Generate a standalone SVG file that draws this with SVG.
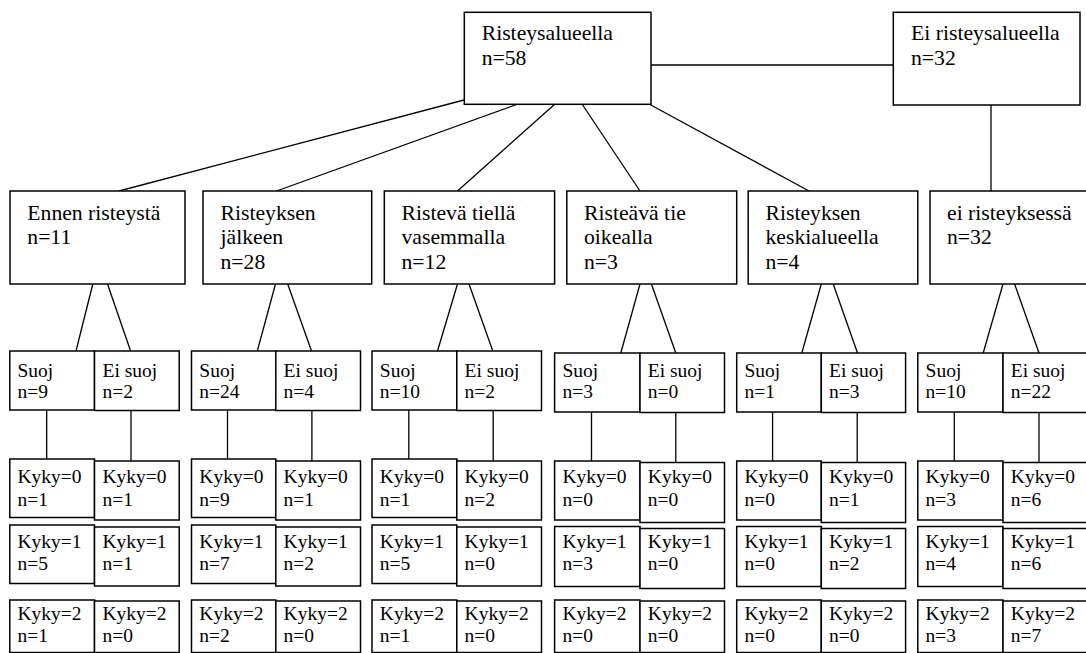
<svg xmlns="http://www.w3.org/2000/svg" width="1086" height="653" viewBox="0 0 1086 653">
  <style>
    .box { fill: #ffffff; stroke: #000000; stroke-width: 1.5; }
    .edge { stroke: #000000; stroke-width: 1.3; fill: none; }
    .big { font-family: "Liberation Serif", "Times New Roman", serif; font-size: 21.7px; fill: #000000; }
    .small { font-family: "Liberation Serif", "Times New Roman", serif; font-size: 19.5px; fill: #000000; }
  </style>
  <rect x="0" y="0" width="1086" height="653" fill="#ffffff"/>

  <!-- connectors -->
  <g id="connectors" class="edge">
    <line x1="651" y1="65" x2="893" y2="65"/>
    <line x1="991" y1="105" x2="991" y2="191"/>
    <line x1="464" y1="100" x2="119" y2="191"/>
    <line x1="518" y1="104" x2="276.5" y2="191"/>
    <line x1="555" y1="104" x2="457.5" y2="191"/>
    <line x1="582" y1="104" x2="640" y2="191"/>
    <line x1="649" y1="104" x2="809" y2="191"/>

    <line x1="92.8" y1="284" x2="76" y2="351"/>
    <line x1="107.5" y1="284" x2="130.6" y2="351"/>
    <line x1="275.5" y1="284" x2="257.3" y2="351"/>
    <line x1="287.7" y1="284" x2="311.5" y2="351"/>
    <line x1="457.5" y1="284" x2="437.5" y2="351"/>
    <line x1="469" y1="284" x2="492.8" y2="351"/>
    <line x1="640" y1="284" x2="620.8" y2="353"/>
    <line x1="651.4" y1="284" x2="675.8" y2="353"/>
    <line x1="821.3" y1="284" x2="801.8" y2="353"/>
    <line x1="833.2" y1="284" x2="857.5" y2="353"/>
    <line x1="1003" y1="284" x2="983.2" y2="353"/>
    <line x1="1014.6" y1="284" x2="1039" y2="353"/>

    <line x1="46.7" y1="410" x2="46.7" y2="459"/>
    <line x1="131" y1="410" x2="131" y2="461"/>
    <line x1="227.5" y1="410" x2="227.5" y2="459"/>
    <line x1="311.9" y1="410" x2="311.9" y2="461"/>
    <line x1="408.8" y1="410" x2="408.8" y2="459"/>
    <line x1="493.2" y1="410" x2="493.2" y2="461"/>
    <line x1="591.5" y1="412" x2="591.5" y2="461"/>
    <line x1="675.8" y1="412" x2="675.8" y2="462.5"/>
    <line x1="772.6" y1="412" x2="772.6" y2="461"/>
    <line x1="857.2" y1="412" x2="857.2" y2="462.5"/>
    <line x1="954.3" y1="412" x2="954.3" y2="461"/>
    <line x1="1039" y1="412" x2="1039" y2="462.5"/>
  </g>

  <!-- top level -->
  <g id="risteysalueella">
    <rect class="box" x="464.3" y="12.3" width="186.7" height="92"/>
    <text class="big" x="481.7" y="40">Risteysalueella</text>
    <text class="big" x="481.7" y="65">n=58</text>
  </g>
  <g id="ei-risteysalueella">
    <rect class="box" x="893.3" y="12.3" width="186.7" height="92.7"/>
    <text class="big" x="911" y="40">Ei risteysalueella</text>
    <text class="big" x="911" y="65">n=32</text>
  </g>

  <!-- second level -->
  <g id="ennen-risteysta">
    <rect class="box" x="10" y="191" width="175" height="93"/>
    <text class="big" x="27.3" y="220">Ennen risteystä</text>
    <text class="big" x="27.3" y="244.3">n=11</text>
  </g>
  <g id="risteyksen-jalkeen">
    <rect class="box" x="203" y="191" width="168.7" height="93"/>
    <text class="big" x="220.5" y="220">Risteyksen</text>
    <text class="big" x="220.5" y="244.3">jälkeen</text>
    <text class="big" x="220.5" y="268.6">n=28</text>
  </g>
  <g id="risteva-tiella-vasemmalla">
    <rect class="box" x="384.3" y="191" width="170.3" height="93"/>
    <text class="big" x="401.5" y="220">Ristevä tiellä</text>
    <text class="big" x="401.5" y="244.3">vasemmalla</text>
    <text class="big" x="401.5" y="268.6">n=12</text>
  </g>
  <g id="risteava-tie-oikealla">
    <rect class="box" x="566.8" y="191" width="169.9" height="93"/>
    <text class="big" x="584" y="220">Risteävä tie</text>
    <text class="big" x="584" y="244.3">oikealla</text>
    <text class="big" x="584" y="268.6">n=3</text>
  </g>
  <g id="risteyksen-keskialueella">
    <rect class="box" x="748.2" y="191" width="169.6" height="93"/>
    <text class="big" x="765.5" y="220">Risteyksen</text>
    <text class="big" x="765.5" y="244.3">keskialueella</text>
    <text class="big" x="765.5" y="268.6">n=4</text>
  </g>
  <g id="ei-risteyksessa">
    <rect class="box" x="930" y="191" width="170" height="93"/>
    <text class="big" x="947" y="220">ei risteyksessä</text>
    <text class="big" x="947" y="244.3">n=32</text>
  </g>

  <!-- third level: protected / unprotected -->
  <g id="g1-suoj"><rect class="box" x="9.8" y="351" width="84.7" height="59"/><text class="small" x="17.5" y="376.7">Suoj</text><text class="small" x="17.5" y="398.3">n=9</text></g>
  <g id="g1-eisuoj"><rect class="box" x="94.5" y="351" width="84.7" height="59.5"/><text class="small" x="102.5" y="376.7">Ei suoj</text><text class="small" x="102.5" y="398.3">n=2</text></g>
  <g id="g2-suoj"><rect class="box" x="191.5" y="351" width="84.3" height="59"/><text class="small" x="199.3" y="376.7">Suoj</text><text class="small" x="199.3" y="398.3">n=24</text></g>
  <g id="g2-eisuoj"><rect class="box" x="275.8" y="351" width="84.7" height="59.5"/><text class="small" x="283.6" y="376.7">Ei suoj</text><text class="small" x="283.6" y="398.3">n=4</text></g>
  <g id="g3-suoj"><rect class="box" x="372" y="351" width="84.8" height="59"/><text class="small" x="379.8" y="376.7">Suoj</text><text class="small" x="379.8" y="398.3">n=10</text></g>
  <g id="g3-eisuoj"><rect class="box" x="456.8" y="351" width="84.7" height="59.5"/><text class="small" x="464.6" y="376.7">Ei suoj</text><text class="small" x="464.6" y="398.3">n=2</text></g>
  <g id="g4-suoj"><rect class="box" x="554.6" y="353" width="85.4" height="59"/><text class="small" x="562.4" y="376.7">Suoj</text><text class="small" x="562.4" y="398.3">n=3</text></g>
  <g id="g4-eisuoj"><rect class="box" x="640" y="353" width="84.5" height="59.5"/><text class="small" x="647.8" y="376.7">Ei suoj</text><text class="small" x="647.8" y="398.3">n=0</text></g>
  <g id="g5-suoj"><rect class="box" x="736.7" y="353" width="84.6" height="59"/><text class="small" x="744.5" y="376.7">Suoj</text><text class="small" x="744.5" y="398.3">n=1</text></g>
  <g id="g5-eisuoj"><rect class="box" x="821.3" y="353" width="84.3" height="59.5"/><text class="small" x="829.1" y="376.7">Ei suoj</text><text class="small" x="829.1" y="398.3">n=3</text></g>
  <g id="g6-suoj"><rect class="box" x="917.8" y="353" width="85.2" height="59"/><text class="small" x="925.6" y="376.7">Suoj</text><text class="small" x="925.6" y="398.3">n=10</text></g>
  <g id="g6-eisuoj"><rect class="box" x="1003" y="353" width="85" height="59.5"/><text class="small" x="1010.8" y="376.7">Ei suoj</text><text class="small" x="1010.8" y="398.3">n=22</text></g>

  <!-- fourth level: Kyky rows, group 1 -->
  <g id="g1-s-k0"><rect class="box" x="9.8" y="459" width="84.7" height="58.5"/><text class="small" x="17.5" y="483">Kyky=0</text><text class="small" x="17.5" y="505.5">n=1</text></g>
  <g id="g1-e-k0"><rect class="box" x="94.5" y="461" width="84.7" height="59"/><text class="small" x="102.5" y="483">Kyky=0</text><text class="small" x="102.5" y="505.5">n=1</text></g>
  <g id="g1-s-k1"><rect class="box" x="9.8" y="525" width="84.7" height="58.5"/><text class="small" x="17.5" y="548.3">Kyky=1</text><text class="small" x="17.5" y="570">n=5</text></g>
  <g id="g1-e-k1"><rect class="box" x="94.5" y="527" width="84.7" height="59"/><text class="small" x="102.5" y="548.3">Kyky=1</text><text class="small" x="102.5" y="570">n=1</text></g>
  <g id="g1-s-k2"><rect class="box" x="9.8" y="600" width="84.7" height="52.5"/><text class="small" x="17.5" y="620">Kyky=2</text><text class="small" x="17.5" y="642">n=1</text></g>
  <g id="g1-e-k2"><rect class="box" x="94.5" y="601" width="84.7" height="51.5"/><text class="small" x="102.5" y="620">Kyky=2</text><text class="small" x="102.5" y="642">n=0</text></g>

  <!-- group 2 -->
  <g id="g2-s-k0"><rect class="box" x="191.5" y="459" width="84.3" height="58.5"/><text class="small" x="199.3" y="483">Kyky=0</text><text class="small" x="199.3" y="505.5">n=9</text></g>
  <g id="g2-e-k0"><rect class="box" x="275.8" y="461" width="84.7" height="59"/><text class="small" x="283.6" y="483">Kyky=0</text><text class="small" x="283.6" y="505.5">n=1</text></g>
  <g id="g2-s-k1"><rect class="box" x="191.5" y="525" width="84.3" height="58.5"/><text class="small" x="199.3" y="548.3">Kyky=1</text><text class="small" x="199.3" y="570">n=7</text></g>
  <g id="g2-e-k1"><rect class="box" x="275.8" y="527" width="84.7" height="59"/><text class="small" x="283.6" y="548.3">Kyky=1</text><text class="small" x="283.6" y="570">n=2</text></g>
  <g id="g2-s-k2"><rect class="box" x="191.5" y="600" width="84.3" height="52.5"/><text class="small" x="199.3" y="620">Kyky=2</text><text class="small" x="199.3" y="642">n=2</text></g>
  <g id="g2-e-k2"><rect class="box" x="275.8" y="601" width="84.7" height="51.5"/><text class="small" x="283.6" y="620">Kyky=2</text><text class="small" x="283.6" y="642">n=0</text></g>

  <!-- group 3 -->
  <g id="g3-s-k0"><rect class="box" x="372" y="459" width="84.8" height="58.5"/><text class="small" x="379.8" y="483">Kyky=0</text><text class="small" x="379.8" y="505.5">n=1</text></g>
  <g id="g3-e-k0"><rect class="box" x="456.8" y="461" width="84.7" height="59"/><text class="small" x="464.6" y="483">Kyky=0</text><text class="small" x="464.6" y="505.5">n=2</text></g>
  <g id="g3-s-k1"><rect class="box" x="372" y="525" width="84.8" height="58.5"/><text class="small" x="379.8" y="548.3">Kyky=1</text><text class="small" x="379.8" y="570">n=5</text></g>
  <g id="g3-e-k1"><rect class="box" x="456.8" y="527" width="84.7" height="59"/><text class="small" x="464.6" y="548.3">Kyky=1</text><text class="small" x="464.6" y="570">n=0</text></g>
  <g id="g3-s-k2"><rect class="box" x="372" y="600" width="84.8" height="52.5"/><text class="small" x="379.8" y="620">Kyky=2</text><text class="small" x="379.8" y="642">n=1</text></g>
  <g id="g3-e-k2"><rect class="box" x="456.8" y="601" width="84.7" height="51.5"/><text class="small" x="464.6" y="620">Kyky=2</text><text class="small" x="464.6" y="642">n=0</text></g>

  <!-- group 4 -->
  <g id="g4-s-k0"><rect class="box" x="554.6" y="461" width="85.4" height="59"/><text class="small" x="562.4" y="483">Kyky=0</text><text class="small" x="562.4" y="505.5">n=0</text></g>
  <g id="g4-e-k0"><rect class="box" x="640" y="462.5" width="84.5" height="60"/><text class="small" x="647.8" y="483">Kyky=0</text><text class="small" x="647.8" y="505.5">n=0</text></g>
  <g id="g4-s-k1"><rect class="box" x="554.6" y="526.5" width="85.4" height="60"/><text class="small" x="562.4" y="548.3">Kyky=1</text><text class="small" x="562.4" y="570">n=3</text></g>
  <g id="g4-e-k1"><rect class="box" x="640" y="528.5" width="84.5" height="60"/><text class="small" x="647.8" y="548.3">Kyky=1</text><text class="small" x="647.8" y="570">n=0</text></g>
  <g id="g4-s-k2"><rect class="box" x="554.6" y="600" width="85.4" height="52.5"/><text class="small" x="562.4" y="620">Kyky=2</text><text class="small" x="562.4" y="642">n=0</text></g>
  <g id="g4-e-k2"><rect class="box" x="640" y="601" width="84.5" height="51.5"/><text class="small" x="647.8" y="620">Kyky=2</text><text class="small" x="647.8" y="642">n=0</text></g>

  <!-- group 5 -->
  <g id="g5-s-k0"><rect class="box" x="736.7" y="461" width="84.6" height="59"/><text class="small" x="744.5" y="483">Kyky=0</text><text class="small" x="744.5" y="505.5">n=0</text></g>
  <g id="g5-e-k0"><rect class="box" x="821.3" y="462.5" width="84.3" height="60"/><text class="small" x="829.1" y="483">Kyky=0</text><text class="small" x="829.1" y="505.5">n=1</text></g>
  <g id="g5-s-k1"><rect class="box" x="736.7" y="526.5" width="84.6" height="60"/><text class="small" x="744.5" y="548.3">Kyky=1</text><text class="small" x="744.5" y="570">n=0</text></g>
  <g id="g5-e-k1"><rect class="box" x="821.3" y="528.5" width="84.3" height="60"/><text class="small" x="829.1" y="548.3">Kyky=1</text><text class="small" x="829.1" y="570">n=2</text></g>
  <g id="g5-s-k2"><rect class="box" x="736.7" y="600" width="84.6" height="52.5"/><text class="small" x="744.5" y="620">Kyky=2</text><text class="small" x="744.5" y="642">n=0</text></g>
  <g id="g5-e-k2"><rect class="box" x="821.3" y="601" width="84.3" height="51.5"/><text class="small" x="829.1" y="620">Kyky=2</text><text class="small" x="829.1" y="642">n=0</text></g>

  <!-- group 6 -->
  <g id="g6-s-k0"><rect class="box" x="917.8" y="461" width="85.2" height="59"/><text class="small" x="925.6" y="483">Kyky=0</text><text class="small" x="925.6" y="505.5">n=3</text></g>
  <g id="g6-e-k0"><rect class="box" x="1003" y="462.5" width="85" height="60"/><text class="small" x="1010.8" y="483">Kyky=0</text><text class="small" x="1010.8" y="505.5">n=6</text></g>
  <g id="g6-s-k1"><rect class="box" x="917.8" y="526.5" width="85.2" height="60"/><text class="small" x="925.6" y="548.3">Kyky=1</text><text class="small" x="925.6" y="570">n=4</text></g>
  <g id="g6-e-k1"><rect class="box" x="1003" y="528.5" width="85" height="60"/><text class="small" x="1010.8" y="548.3">Kyky=1</text><text class="small" x="1010.8" y="570">n=6</text></g>
  <g id="g6-s-k2"><rect class="box" x="917.8" y="600" width="85.2" height="52.5"/><text class="small" x="925.6" y="620">Kyky=2</text><text class="small" x="925.6" y="642">n=3</text></g>
  <g id="g6-e-k2"><rect class="box" x="1003" y="601" width="85" height="51.5"/><text class="small" x="1010.8" y="620">Kyky=2</text><text class="small" x="1010.8" y="642">n=7</text></g>
</svg>
